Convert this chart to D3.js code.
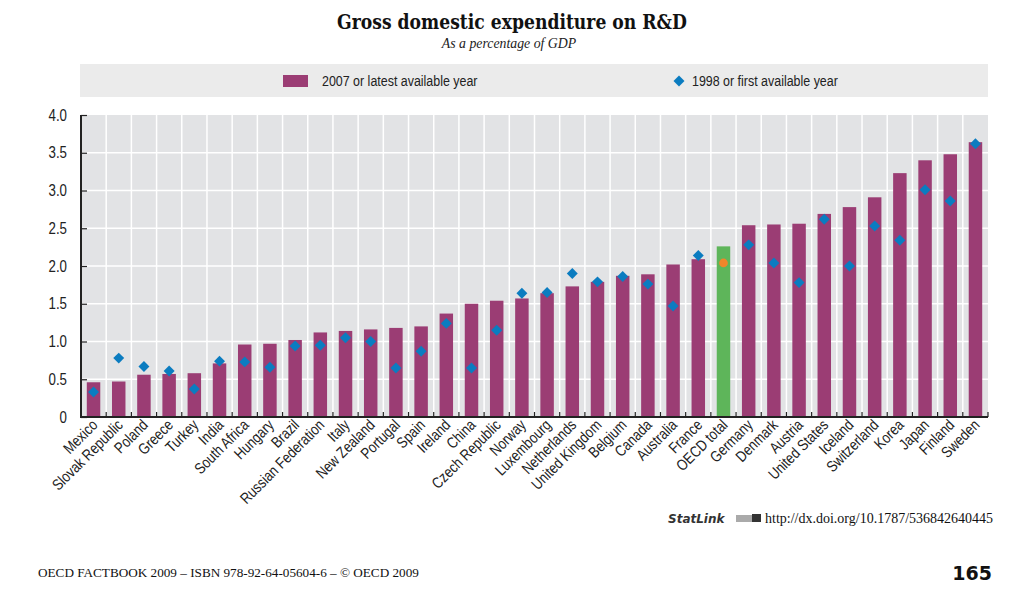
<!DOCTYPE html>
<html>
<head>
<meta charset="utf-8">
<script src="https://cdn.jsdelivr.net/npm/d3@7"></script>
<style>
  body { margin: 0; background: #fff; }
  svg { display: block; }
  .narrow { font-family: "Liberation Sans", Arial, sans-serif; }
</style>
</head>
<body>
<svg id="chart" width="1024" height="599"></svg>
<script>
const categories = ["Mexico","Slovak Republic","Poland","Greece","Turkey","India","South Africa","Hungary","Brazil","Russian Federation","Italy","New Zealand","Portugal","Spain","Ireland","China","Czech Republic","Norway","Luxembourg","Netherlands","United Kingdom","Belgium","Canada","Australia","France","OECD total","Germany","Denmark","Austria","United States","Iceland","Switzerland","Korea","Japan","Finland","Sweden"];
const latest = [0.46,0.47,0.56,0.57,0.58,0.71,0.96,0.97,1.02,1.12,1.14,1.16,1.18,1.20,1.37,1.50,1.54,1.57,1.64,1.73,1.79,1.87,1.89,2.02,2.09,2.26,2.54,2.55,2.56,2.69,2.78,2.91,3.23,3.40,3.48,3.64];
const first = [0.33,0.78,0.67,0.61,0.37,0.74,0.73,0.66,0.94,0.95,1.05,1.00,0.65,0.87,1.24,0.65,1.15,1.64,1.65,1.90,1.79,1.86,1.76,1.47,2.14,2.04,2.28,2.04,1.78,2.62,2.00,2.53,2.34,3.01,2.86,3.62];
const yTicks = [0,0.5,1.0,1.5,2.0,2.5,3.0,3.5,4.0];
const yTickLabels = ["0","0.5","1.0","1.5","2.0","2.5","3.0","3.5","4.0"];
const highlight = "OECD total";
const legendLabels = ["2007 or latest available year","1998 or first available year"];

const svg = d3.select("#chart");
const pLeft = 81, pRight = 988, pTop = 115, pBottom = 417;
const NARROW = 0.83;

const x = d3.scaleBand().domain(categories).range([pLeft, pRight]).paddingInner(0.465).paddingOuter(0.23);
const xb = d3.scaleBand().domain(categories).range([pLeft, pRight]);
const y = d3.scaleLinear().domain([0, 4]).range([pBottom, pTop]);
const diamond = d3.symbol(d3.symbolSquare, 60)();

// Title
svg.append("text").attr("text-anchor", "middle")
  .attr("transform", "translate(512,29) scale(0.86,1)")
  .style("font-family", "'DejaVu Serif', serif")
  .style("font-weight", "bold").style("font-size", "20px").attr("fill", "#111")
  .text("Gross domestic expenditure on R&D");
svg.append("text").attr("text-anchor", "middle")
  .attr("transform", "translate(509,48) scale(0.92,1)")
  .style("font-family", "'Liberation Serif', serif").style("font-style", "italic")
  .style("font-size", "15px").attr("fill", "#222")
  .text("As a percentage of GDP");

// Legend
svg.append("rect").attr("x", 80).attr("y", 64).attr("width", 908).attr("height", 33).attr("fill", "#ebebeb");
svg.append("rect").attr("x", 283).attr("y", 75).attr("width", 25).attr("height", 12).attr("fill", "#9b3d74");
svg.append("text").attr("class", "narrow").attr("transform", `translate(322,86) scale(${NARROW},1)`)
  .style("font-size", "15px").attr("fill", "#222").text(legendLabels[0]);
svg.append("path").attr("d", diamond).attr("transform", "translate(679,81) rotate(45)").attr("fill", "#0b7cc0");
svg.append("text").attr("class", "narrow").attr("transform", `translate(692,86) scale(${NARROW},1)`)
  .style("font-size", "15px").attr("fill", "#222").text(legendLabels[1]);

// Plot background
svg.append("rect").attr("x", pLeft).attr("y", pTop).attr("width", pRight - pLeft).attr("height", pBottom - pTop).attr("fill", "#e2e3e5");

// Horizontal gridlines
svg.append("g").selectAll("line").data(yTicks.slice(1, -1)).join("line")
  .attr("x1", pLeft).attr("x2", pRight).attr("y1", d => y(d)).attr("y2", d => y(d))
  .attr("stroke", "#fff").attr("stroke-width", 1.5);
// Vertical gridlines at band boundaries
svg.append("g").selectAll("line").data(categories.slice(1)).join("line")
  .attr("x1", d => xb(d)).attr("x2", d => xb(d)).attr("y1", pTop).attr("y2", pBottom)
  .attr("stroke", "#fff").attr("stroke-width", 1.5);

// Bars
svg.append("g").selectAll("rect").data(categories).join("rect")
  .attr("x", d => x(d)).attr("width", x.bandwidth())
  .attr("y", (d, i) => y(latest[i])).attr("height", (d, i) => y(0) - y(latest[i]))
  .attr("fill", d => d === highlight ? "#5eb55a" : "#9b3d74");

// Diamonds / highlight dot
svg.append("g").selectAll("path").data(categories).join("path")
  .attr("d", d => d === highlight ? d3.symbol(d3.symbolCircle, 60)() : diamond)
  .attr("transform", (d, i) => `translate(${x(d) + x.bandwidth() / 2},${y(first[i])}) rotate(45)`)
  .attr("fill", d => d === highlight ? "#f0862a" : "#0b7cc0");

// Y axis
const yAxis = svg.append("g").attr("transform", `translate(${pLeft},0)`)
  .call(d3.axisRight(y).tickValues(yTicks).tickSize(6).tickFormat(() => ""));
yAxis.select(".domain").remove();
yAxis.selectAll(".tick line").attr("stroke", "#222").attr("stroke-width", 1.2);
svg.append("g").selectAll("text").data(yTicks).join("text").attr("class", "narrow")
  .attr("text-anchor", "end")
  .attr("transform", d => `translate(67,${y(d) + 5.5}) scale(${NARROW},1)`)
  .style("font-size", "16px").attr("fill", "#222").text((d, i) => yTickLabels[i]);
svg.append("line").attr("x1", pLeft).attr("x2", pLeft).attr("y1", pTop).attr("y2", pBottom + 1)
  .attr("stroke", "#222").attr("stroke-width", 2);

// X axis
svg.append("line").attr("x1", pLeft).attr("x2", pRight).attr("y1", pBottom).attr("y2", pBottom)
  .attr("stroke", "#222").attr("stroke-width", 2);
svg.append("g").selectAll("line").data(categories.slice(1).concat(["__end"])).join("line")
  .attr("x1", d => d === "__end" ? pRight : xb(d)).attr("x2", d => d === "__end" ? pRight : xb(d))
  .attr("y1", pBottom - 5).attr("y2", pBottom)
  .attr("stroke", "#222").attr("stroke-width", 1.2);

svg.append("g").selectAll("text").data(categories).join("text").attr("class", "narrow")
  .attr("text-anchor", "end")
  .attr("transform", d => `translate(${x(d) + x.bandwidth() / 2 + 5},${pBottom + 9}) rotate(-45) scale(${NARROW},1)`)
  .style("font-size", "15.5px").attr("fill", "#222").text(d => d);

// Footer
svg.append("text").attr("x", 668).attr("y", 523)
  .style("font-family", "'DejaVu Sans', sans-serif").style("font-style", "italic").style("font-weight", "bold")
  .style("font-size", "12px").attr("fill", "#333").text("StatLink");
svg.append("rect").attr("x", 736).attr("y", 515).attr("width", 16).attr("height", 7).attr("fill", "#aaa");
svg.append("rect").attr("x", 752).attr("y", 514).attr("width", 9).attr("height", 8).attr("fill", "#333");
svg.append("text").attr("x", 765).attr("y", 523)
  .style("font-family", "'Liberation Serif', serif").style("font-size", "14px").attr("fill", "#111")
  .text("http://dx.doi.org/10.1787/536842640445");
svg.append("text").attr("x", 38).attr("y", 577)
  .style("font-family", "'Liberation Serif', serif").style("font-size", "13.2px").attr("fill", "#111")
  .text("OECD FACTBOOK 2009 – ISBN 978-92-64-05604-6 – © OECD 2009");
svg.append("text").attr("x", 992).attr("y", 580).attr("text-anchor", "end")
  .style("font-family", "'DejaVu Sans', sans-serif").style("font-weight", "bold")
  .style("font-size", "19px").attr("fill", "#111").text("165");
</script>
</body>
</html>
